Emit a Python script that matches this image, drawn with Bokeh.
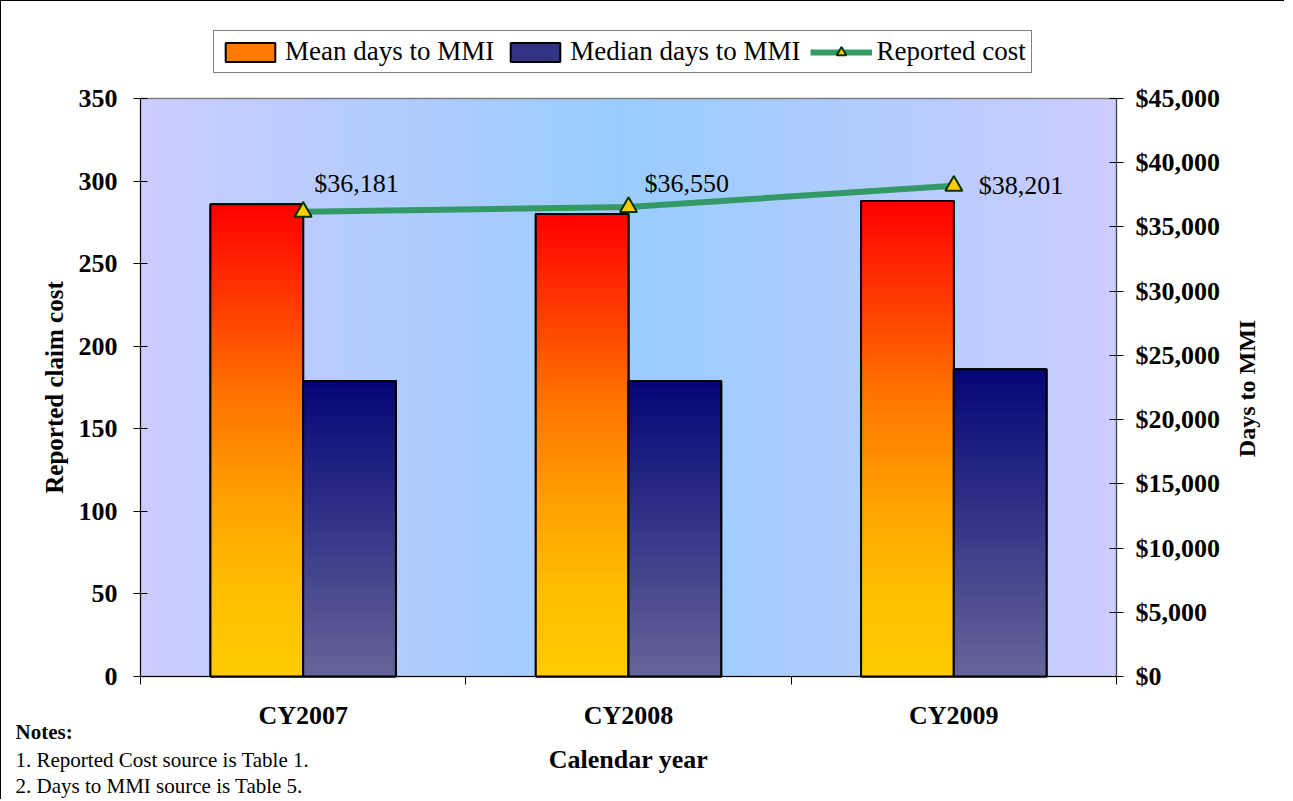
import math
from bokeh.plotting import figure
from bokeh.models import (Range1d, LinearAxis, FixedTicker, NumeralTickFormatter,
                          Legend, LegendItem, Label)
from bokeh.core.properties import value
from bokeh.embed import file_html
from bokeh.resources import INLINE

# ---------------- data ----------------
categories = ["CY2007", "CY2008", "CY2009"]
mean_days = [286, 280, 288]
median_days = [179, 179, 186]
reported_cost = [36181, 36550, 38201]
cost_labels = ["$36,181", "$36,550", "$38,201"]
left_ticks = [0, 50, 100, 150, 200, 250, 300, 350]
right_ticks = [0, 5000, 10000, 15000, 20000, 25000, 30000, 35000, 40000, 45000]
notes_title = "Notes:"
notes = ["1. Reported Cost source is Table 1.", "2. Days to MMI source is Table 5."]

# ---------------- layout / styles ----------------
FONT = "Liberation Serif"
W, H = 1284, 799
PA_L, PA_R, PA_T, PA_B = 139, 1115, 97, 675    # plot area in canvas pixels
BAR_W = 0.285
label_dx = [11, 16, 25]
label_dy = [-28, -24, 0]
mean_stops = [(0.0, (255, 0, 0)), (0.4, (255, 114, 0)), (0.6, (255, 157, 0)),
              (0.8, (255, 188, 0)), (1.0, (255, 204, 0))]
median_stops = [(0.0, (5, 5, 120)), (1.0, (102, 102, 153))]
bg_center = (153, 204, 255)
bg_edge = (204, 204, 255)


def lerp_stops(stops, t):
    for (t0, c0), (t1, c1) in zip(stops[:-1], stops[1:]):
        if t <= t1:
            f = 0 if t1 == t0 else (t - t0) / (t1 - t0)
            c = [round(a + (b - a) * f) for a, b in zip(c0, c1)]
            return "#%02x%02x%02x" % tuple(c)
    return "#%02x%02x%02x" % stops[-1][1]


n = len(categories)
x_pos = [i + 0.5 for i in range(n)]
ymax = left_ticks[-1]
cmax = right_ticks[-1]

# ranges chosen so the data area lands on the plot-area pixels; the frame fills the canvas
xpx = (PA_R - PA_L) / n
ypx = (PA_B - PA_T) / ymax
x_range = Range1d(-PA_L / xpx, n + (W - PA_R) / xpx)
y_range = Range1d(-(H - PA_B) / ypx, ymax + PA_T / ypx)
cscale = cmax / ymax
cost_range = Range1d(y_range.start * cscale, y_range.end * cscale)

p = figure(width=W, height=H, output_backend="svg", toolbar_location=None,
           x_range=x_range, y_range=y_range, min_border=0, title=None)
p.min_border_left = p.min_border_right = p.min_border_top = p.min_border_bottom = 0
p.extra_y_ranges = {"cost": cost_range}
p.styles = {"border-left": "1px solid black", "border-top": "1px solid black"}
p.background_fill_color = "white"
p.border_fill_color = "white"
p.outline_line_color = None
p.xgrid.visible = False
p.ygrid.visible = False

# background gradient (horizontal, lighter blue in the centre)
NB = 130
bl, br, bc = [], [], []
for i in range(NB):
    x0 = n * i / NB
    x1 = n * (i + 1) / NB
    t = abs((x0 + x1) / 2 - n / 2) / (n / 2)
    bl.append(x0)
    br.append(x1)
    bc.append(lerp_stops([(0, bg_center), (1, bg_edge)], t))
p.quad(left=bl, right=br, bottom=[0] * NB, top=[ymax] * NB,
       fill_color=bc, line_color=bc, line_width=1)
p.quad(left=[0], right=[n], bottom=[0], top=[ymax], fill_color=None,
       line_color="#808080", line_width=1.5)

# gradient bars
NS = 70
def gradient_bar(xc_list, vals, side, stops, swatch_color):
    lefts = [xc - BAR_W if side == "left" else xc for xc in xc_list]
    rights = [xc if side == "left" else xc + BAR_W for xc in xc_list]
    # solid bar underneath (also serves as the legend swatch)
    proxy = p.quad(left=lefts, right=rights, bottom=[0] * len(vals), top=vals,
                   fill_color=swatch_color, line_color="black", line_width=2)
    L, R, B, T, C = [], [], [], [], []
    for x0, x1, v in zip(lefts, rights, vals):
        for k in range(NS):
            b = v * k / NS
            tp = v * (k + 1) / NS
            t = 1 - ((b + tp) / 2) / v
            L.append(x0); R.append(x1); B.append(b); T.append(tp)
            C.append(lerp_stops(stops, t))
    p.quad(left=L, right=R, bottom=B, top=T, fill_color=C, line_color=C, line_width=1)
    p.quad(left=lefts, right=rights, bottom=[0] * len(vals), top=vals, fill_color=None,
           line_color="black", line_width=2)
    return proxy

leg_mean = gradient_bar(x_pos, mean_days, "left", mean_stops, "#ff7a00")
leg_median = gradient_bar(x_pos, median_days, "right", median_stops, "#333384")

# reported cost line
cost_line = p.line(x_pos, reported_cost, y_range_name="cost", line_color="#339966",
                   line_width=6)
cost_pts = p.scatter(x_pos, reported_cost, y_range_name="cost", marker="triangle",
                     size=17, fill_color="#ffcc00", line_color="#003300", line_width=2)
p.text(x=x_pos, y=reported_cost, text=cost_labels, y_range_name="cost",
       x_offset=label_dx, y_offset=label_dy, text_font=value(FONT),
       text_font_size="26px", text_color="black", text_align="left",
       text_baseline="middle")

# axes (pinned onto the plot area edges)
xa = p.xaxis[0]
xa.fixed_location = 0
xa.bounds = (0, n)
xa.ticker = FixedTicker(ticks=x_pos, minor_ticks=list(range(n + 1)))
xa.major_label_overrides = {x: c for x, c in zip(x_pos, categories)}
xa.major_tick_in = 0
xa.major_tick_out = 0
xa.minor_tick_in = 0
xa.minor_tick_out = 8
xa.minor_tick_line_color = "black"
xa.axis_line_color = "black"
xa.major_label_text_font = FONT
xa.major_label_text_font_style = "bold"
xa.major_label_text_font_size = "26px"
xa.major_label_text_color = "black"
xa.major_label_standoff = 16
xa.axis_label = "Calendar year"
xa.axis_label_text_font = FONT
xa.axis_label_text_font_style = "bold"
xa.axis_label_text_font_size = "26px"
xa.axis_label_text_color = "black"
xa.axis_label_standoff = 12

ya = p.yaxis[0]
ya.fixed_location = 0
ya.bounds = (0, ymax)
ya.ticker = FixedTicker(ticks=left_ticks, minor_ticks=[])
ya.major_tick_in = 7
ya.major_tick_out = 7
ya.major_tick_line_color = "black"
ya.axis_line_color = "black"
ya.major_label_text_font = FONT
ya.major_label_text_font_style = "bold"
ya.major_label_text_font_size = "26px"
ya.major_label_text_color = "black"
ya.major_label_standoff = 16
ya.axis_label = "Reported claim cost"
ya.axis_label_text_font = FONT
ya.axis_label_text_font_style = "bold"
ya.axis_label_text_font_size = "25px"
ya.axis_label_text_color = "black"
ya.axis_label_standoff = 8

ra = LinearAxis(y_range_name="cost", ticker=FixedTicker(ticks=right_ticks, minor_ticks=[]),
                formatter=NumeralTickFormatter(format="$0,0"))
ra.fixed_location = n
ra.bounds = (0, cmax)
ra.major_tick_in = 7
ra.major_tick_out = 7
ra.major_tick_line_color = "black"
ra.axis_line_color = "#404040"
ra.major_label_text_font = FONT
ra.major_label_text_font_style = "bold"
ra.major_label_text_font_size = "26px"
ra.major_label_text_color = "black"
ra.major_label_standoff = 12
p.add_layout(ra, "right")

# screen positions below are measured from the canvas' bottom-left corner
p.add_layout(Label(x=1245, y=H + 1 - 388, x_units="screen", y_units="screen",
                   text="Days to MMI", angle=math.pi / 2, text_align="center",
                   text_baseline="middle", text_font=FONT, text_font_style="bold",
                   text_font_size="24px", text_color="black"))

p.add_layout(Label(x=14, y=H + 1 - 731, x_units="screen", y_units="screen", text=notes_title,
                   text_align="left", text_baseline="middle", text_font=FONT,
                   text_font_style="bold", text_font_size="21px", text_color="black"))
for i, t in enumerate(notes):
    p.add_layout(Label(x=14, y=H + 1 - 759 - 26 * i, x_units="screen", y_units="screen",
                       text=t, text_align="left", text_baseline="middle", text_font=FONT,
                       text_font_size="21px", text_color="black"))

legend = Legend(items=[LegendItem(label="Mean days to MMI", renderers=[leg_mean]),
                       LegendItem(label="Median days to MMI", renderers=[leg_median]),
                       LegendItem(label="Reported cost", renderers=[cost_line, cost_pts])],
                orientation="horizontal", location=(212, H + 1 - 73))
legend.label_text_font = FONT
legend.label_text_font_size = "27px"
legend.label_text_color = "black"
legend.glyph_width = 62
legend.glyph_height = 24
legend.label_standoff = 4
legend.spacing = 10
legend.padding = 5
legend.margin = 0
legend.border_line_color = "black"
legend.border_line_width = 1
legend.background_fill_color = "white"
legend.background_fill_alpha = 1.0
p.add_layout(legend)

open("out.html", "w").write(file_html(p, INLINE))
